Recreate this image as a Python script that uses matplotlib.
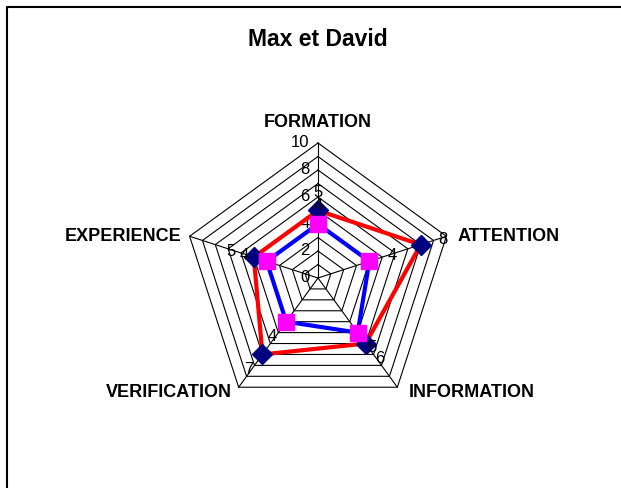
import numpy as np
import matplotlib.pyplot as plt
from matplotlib.lines import Line2D

plt.rcParams['font.family'] = ['Liberation Sans', 'DejaVu Sans']

title = "Max et David"
axes_names = ["FORMATION", "ATTENTION", "INFORMATION", "VERIFICATION", "EXPERIENCE"]
max_vals = [5, 8, 6, 7, 5]
david_vals = [4, 4, 5, 4, 4]
ticks = [0, 2, 4, 6, 8, 10]
rmax = 10

fig = plt.figure(figsize=(6.21, 4.88), dpi=100)
ax = fig.add_axes([0, 0, 1, 1])
# 13.5 px per unit, centre of the web at (318, 278) px
scale = 13.5
ax.set_xlim(-318 / scale, (621 - 318) / scale)
ax.set_ylim(-(488 - 278) / scale, 278 / scale)
ax.set_aspect('equal')
ax.axis('off')

n = len(axes_names)
ang = np.pi / 2 - 2 * np.pi * np.arange(n) / n
ux, uy = np.cos(ang), np.sin(ang)

def to_xy(vals):
    v = np.asarray(vals, float)
    x, y = v * ux, v * uy
    return np.append(x, x[0]), np.append(y, y[0])

# pentagon grid, one ring per unit
for r in range(1, rmax + 1):
    gx, gy = to_xy([r] * n)
    ax.plot(gx, gy, color='black', lw=0.8, zorder=1)
for i in range(n):
    ax.plot([0, rmax * ux[i]], [0, rmax * uy[i]], color='black', lw=0.8, zorder=1)

# scale labels up the first spoke
for t in ticks:
    ax.annotate(str(t), (0, t), xytext=(-6, 0), textcoords='offset points',
                ha='right', va='center', fontsize=12)

# series
mx, my = to_xy(max_vals)
ax.plot(mx, my, color='#ff0000', lw=3, zorder=3)
ax.plot(mx[:-1], my[:-1], ls='none', marker='D', ms=10, color='#000080', zorder=4)
dx, dy = to_xy(david_vals)
ax.plot(dx, dy, color='#0000ff', lw=3, zorder=5)
ax.plot(dx[:-1], dy[:-1], ls='none', marker='s', ms=11.5, color='#ff00ff', zorder=6)

# value labels pushed outward from each point
for vals in (max_vals, david_vals):
    for i, v in enumerate(vals):
        ax.annotate(str(v), (v * ux[i], v * uy[i]),
                    xytext=(17 * ux[i], 13 * uy[i]), textcoords='offset points',
                    ha='center', va='center', fontsize=12, zorder=7)

# category names around the outer ring
name_off = [(0, 15, 'center', 'center'), (8, 0, 'left', 'center'),
            (8, -4, 'left', 'center'), (-5, -4, 'right', 'center'),
            (-6, 0, 'right', 'center')]
for i, name in enumerate(axes_names):
    ox, oy, ha, va = name_off[i]
    ax.annotate(name, (rmax * ux[i], rmax * uy[i]), xytext=(ox, oy),
                textcoords='offset points', ha=ha, va=va,
                fontsize=13, fontweight='bold')

fig.text(318 / 621, 1 - 40 / 488, title, ha='center', va='center',
         fontsize=16.5, fontweight='bold')

# chart area border (top and left edges)
fig.add_artist(Line2D([7 / 621, 7 / 621, 1], [0, 1 - 7 / 488, 1 - 7 / 488],
                      transform=fig.transFigure, color='black', lw=1.5))

fig.savefig('out.png', dpi=100)
